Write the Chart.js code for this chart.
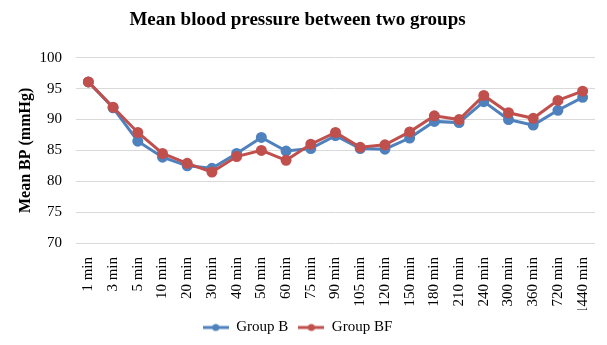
<!DOCTYPE html>
<html>
<head>
<meta charset="utf-8">
<script src="https://cdn.jsdelivr.net/npm/chart.js@4/dist/chart.umd.min.js"></script>
<style>
  html, body { margin: 0; padding: 0; background: #ffffff; }
  #wrap { width: 607px; height: 345px; position: relative; }
</style>
</head>
<body>
<div id="wrap"><canvas id="c" width="607" height="345"></canvas></div>
<script>
const categories = ["1 min","3 min","5 min","10 min","20 min","30 min","40 min","50 min","60 min","75 min","90 min","105 min","120 min","150 min","180 min","210 min","240 min","300 min","360 min","720 min","1440 min"];
const groupB  = [96.1, 91.9, 86.5, 83.9, 82.5, 82.1, 84.5, 87.1, 84.9, 85.3, 87.4, 85.3, 85.2, 87.0, 89.7, 89.5, 92.9, 90.0, 89.1, 91.5, 93.6];
const groupBF = [96.1, 92.0, 87.9, 84.5, 82.9, 81.5, 84.0, 85.0, 83.4, 86.0, 87.9, 85.5, 85.9, 88.0, 90.6, 90.0, 93.9, 91.1, 90.2, 93.1, 94.6];
const yTicks = [70, 75, 80, 85, 90, 95, 100];
const seriesNames = ["Group B", "Group BF"];
const seriesColors = ["#4F81BD", "#C0504D"];

const FONT = "'Liberation Serif', 'Times New Roman', serif";

function legendIcon(color) {
  const cv = document.createElement('canvas');
  cv.width = 26; cv.height = 10;
  const g = cv.getContext('2d');
  g.strokeStyle = color; g.lineWidth = 3;
  g.beginPath(); g.moveTo(0, 5); g.lineTo(26, 5); g.stroke();
  g.fillStyle = color;
  g.beginPath(); g.arc(13, 5, 3.5, 0, Math.PI * 2); g.fill();
  return cv;
}
const icons = seriesColors.map(legendIcon);

new Chart(document.getElementById('c'), {
  type: 'line',
  data: {
    labels: categories,
    datasets: [
      { label: seriesNames[0], data: groupB, borderColor: seriesColors[0], backgroundColor: seriesColors[0],
        borderWidth: 3, pointRadius: 4, pointHoverRadius: 4, tension: 0, order: 1 },
      { label: seriesNames[1], data: groupBF, borderColor: seriesColors[1], backgroundColor: seriesColors[1],
        borderWidth: 3, pointRadius: 4, pointHoverRadius: 4, tension: 0, order: 0 }
    ]
  },
  options: {
    responsive: false,
    animation: false,
    devicePixelRatio: 1,
    layout: { padding: { left: 0, right: 12, top: 0, bottom: 0 } },
    plugins: {
      title: {
        display: true,
        text: 'Mean blood pressure between two groups',
        color: '#000000',
        font: { family: FONT, size: 19, weight: 'bold' },
        padding: { top: 9, bottom: 26 }
      },
      legend: {
        position: 'bottom',
        labels: {
          color: '#000000',
          font: { family: FONT, size: 15 },
          usePointStyle: true,
          pointStyleWidth: 26,
          boxHeight: 10,
          padding: 10,
          generateLabels: (chart) => chart.data.datasets.map((ds, i) => ({
            text: ds.label,
            pointStyle: icons[i],
            fillStyle: ds.borderColor,
            strokeStyle: ds.borderColor,
            lineWidth: 0,
            hidden: false,
            datasetIndex: i,
            fontColor: '#000000'
          }))
        }
      },
      tooltip: { enabled: false }
    },
    scales: {
      x: {
        offset: true,
        grid: { display: false },
        border: { display: false },
        ticks: {
          color: '#000000',
          font: { family: FONT, size: 15 },
          minRotation: 90, maxRotation: 90,
          autoSkip: false,
          padding: 6
        },
        afterFit: (s) => { s.height = 67; }
      },
      y: {
        min: 70, max: 100,
        afterBuildTicks: (s) => { s.ticks = yTicks.map(v => ({ value: v })); },
        grid: { color: '#d9d9d9', lineWidth: 1, drawTicks: false },
        border: { display: false },
        ticks: {
          color: '#000000',
          font: { family: FONT, size: 15 },
          padding: 14
        },
        title: {
          display: true,
          text: 'Mean BP (mmHg)',
          color: '#000000',
          font: { family: FONT, size: 16, weight: 'bold' },
          padding: { top: 16, bottom: 0 }
        },
        afterFit: (s) => { s.width = 76; }
      }
    }
  }
});
</script>
</body>
</html>
